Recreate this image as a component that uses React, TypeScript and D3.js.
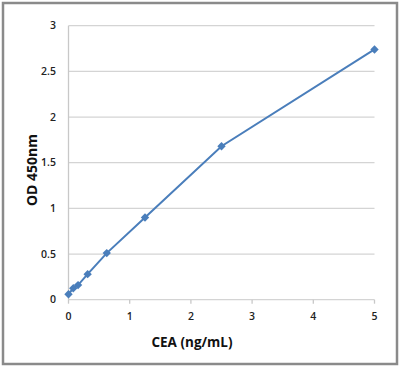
import React from "react";
import * as d3 from "d3";

const concentrations = [0, 0.078, 0.156, 0.3125, 0.625, 1.25, 2.5, 5];
const odValues = [0.06, 0.125, 0.16, 0.28, 0.51, 0.9, 1.68, 2.74];
const xTicks = [0, 1, 2, 3, 4, 5];
const yTicks = [0, 0.5, 1, 1.5, 2, 2.5, 3];

const W = 400;
const H = 368;
const FONT = "'Open Sans', 'Noto Sans', sans-serif";
const BLUE = "#4a7ebb";

export default function App() {
  const x = d3.scaleLinear().domain([0, 5]).range([68.5, 374.5]);
  const y = d3.scaleLinear().domain([0, 3]).range([299.7, 25.7]);
  const pts = concentrations.map((c, i) => [x(c), y(odValues[i])] as [number, number]);
  const line = d3.line()(pts) || "";
  const r = 4.2;
  const diamond = `M0,${-r}L${r},0L0,${r}L${-r},0Z`;

  return (
    <svg
      width={W}
      height={H}
      style={{ position: "absolute", left: 0, top: 0 }}
    >
      <rect x={0} y={0} width={W} height={H} fill="#fff" />
      <rect x={3} y={3} width={394} height={361} fill="#fff" stroke="#8a8a8a" strokeWidth={2.5} />
      {yTicks.map((t) => (
        <line key={"g" + t} x1={x(0)} x2={x(5)} y1={y(t)} y2={y(t)} stroke="#d4d4d4" strokeWidth={1.3} />
      ))}
      <line x1={x(0)} x2={x(0)} y1={y(3)} y2={y(0)} stroke="#c8c8c8" strokeWidth={1.3} />
      {xTicks.map((t) => (
        <line key={"xt" + t} x1={x(t)} x2={x(t)} y1={y(0)} y2={y(0) + 4} stroke="#c8c8c8" strokeWidth={1.3} />
      ))}
      {yTicks.map((t) => (
        <text key={"yl" + t} x={56} y={y(t)} dy="0.35em" textAnchor="end" fontFamily={FONT} fontSize={10.5} fontWeight={600} fill="#222">
          {d3.format("~g")(t)}
        </text>
      ))}
      {xTicks.map((t) => (
        <text key={"xl" + t} x={x(t)} y={316} dy="0.35em" textAnchor="middle" fontFamily={FONT} fontSize={10.5} fontWeight={600} fill="#222">
          {t}
        </text>
      ))}
      <path d={line} fill="none" stroke={BLUE} strokeWidth={2} />
      {pts.map((p, i) => (
        <path key={"m" + i} d={diamond} transform={`translate(${p[0]},${p[1]})`} fill={BLUE} />
      ))}
      <text x={192} y={347} textAnchor="middle" fontFamily={FONT} fontSize={13.5} fontWeight={700} fill="#111">
        CEA (ng/mL)
      </text>
      <text
        transform={`translate(37,170) rotate(-90)`}
        textAnchor="middle"
        fontFamily={FONT}
        fontSize={14}
        fontWeight={700}
        fill="#111"
      >
        OD 450nm
      </text>
    </svg>
  );
}
